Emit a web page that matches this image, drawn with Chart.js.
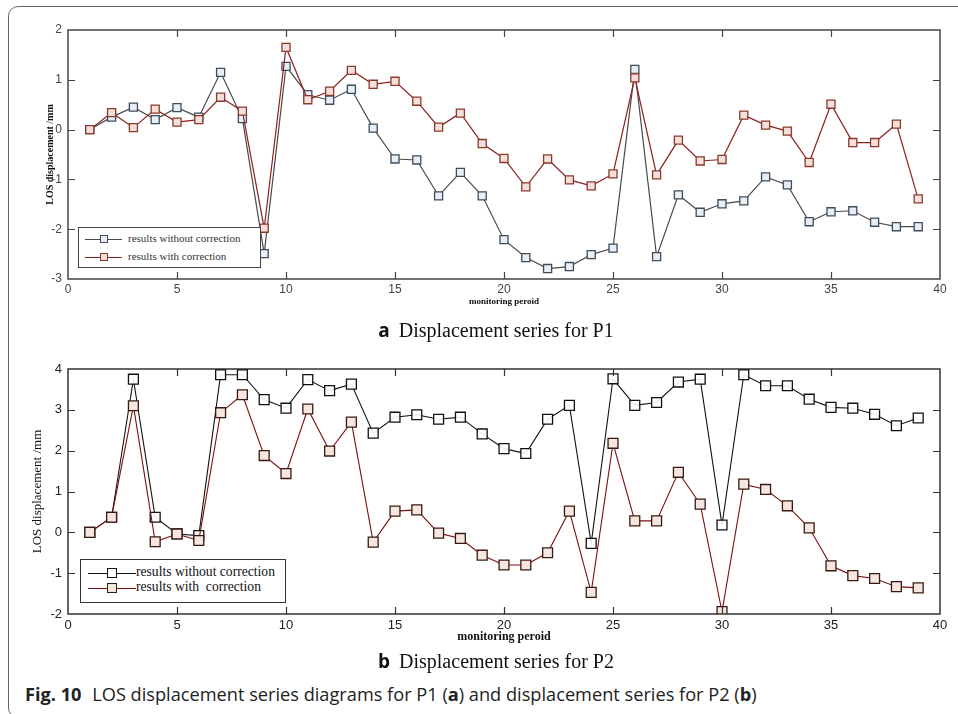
<!DOCTYPE html>
<html>
<head>
<meta charset="utf-8">
<script src="https://cdn.jsdelivr.net/npm/chart.js@4.4.1/dist/chart.umd.min.js"></script>
<style>
  html, body { margin: 0; padding: 0; background: #fff; }
  body { width: 958px; height: 714px; position: relative; overflow: hidden; }
  #frame { position: absolute; left: 8px; top: 6px; width: 1000px; height: 712px;
           border: 1.5px solid #666; border-radius: 10px; box-sizing: border-box; }
  canvas { position: absolute; left: 0; }
  #ca { top: 0; }
  #cb { top: 340px; }
  .sub { position: absolute; left: 0; width: 992px; text-align: center; white-space: nowrap;
         font-family: "Liberation Serif", "DejaVu Serif", serif; font-size: 20px; color: #111; }
  .sub b { font-family: "Open Sans", "Liberation Sans", sans-serif; font-weight: 700; font-size: 19px; margin-right: 4px; }
  #suba { top: 317px; }
  #subb { top: 648px; }
  #cap { position: absolute; left: 25px; top: 682px; white-space: nowrap;
         font-family: "Open Sans", "Liberation Sans", sans-serif; font-size: 18.2px; color: #222; }
  #cap .fig { font-weight: 700; margin-right: 6px; }
  .legend { position: absolute; background: #fff; box-sizing: border-box; }
  .row { position: absolute; left: 0; height: 14px; }
  .ln { position: absolute; top: 6px; height: 0; }
  .mk { position: absolute; box-sizing: border-box; }
  .tx { position: absolute; white-space: nowrap; font-family: "Liberation Serif", "DejaVu Serif", serif; }
  #lega { left: 78px; top: 227px; width: 183px; height: 41px; border: 1.5px solid #444; }
  #lega .tx { font-size: 11px; color: #333; left: 49px; top: -1px; }
  #legb { left: 80px; top: 559px; width: 206px; height: 44px; border: 1.5px solid #333; }
  #legb .tx { font-size: 13.6px; color: #111; left: 55px; top: -3px; }
</style>
</head>
<body>
<div id="frame"></div>
<canvas id="ca" width="958" height="310"></canvas>
<canvas id="cb" width="958" height="310"></canvas>

<div class="legend" id="lega">
  <div class="row" style="top:5px;">
    <div class="ln" style="left:6px;width:37px;border-top:1.3px solid #4a4a4a;"></div>
    <div class="mk" style="left:21px;top:2px;width:8px;height:8px;border:1.3px solid #3d4d5c;background:#e8eef4;"></div>
    <div class="tx">results without correction</div>
  </div>
  <div class="row" style="top:23px;">
    <div class="ln" style="left:6px;width:37px;border-top:1.6px solid #8b2020;"></div>
    <div class="mk" style="left:21px;top:2px;width:8px;height:8px;border:1.3px solid #8b3a2a;background:#f3e0dc;"></div>
    <div class="tx">results with correction</div>
  </div>
</div>

<div class="legend" id="legb">
  <div class="row" style="top:7px;">
    <div class="ln" style="left:7px;width:48px;border-top:1.2px solid #111;"></div>
    <div class="mk" style="left:26px;top:1px;width:10px;height:10px;border:1.3px solid #111;background:#fff;"></div>
    <div class="tx">results without correction</div>
  </div>
  <div class="row" style="top:22px;">
    <div class="ln" style="left:7px;width:48px;border-top:1.2px solid #7a1010;"></div>
    <div class="mk" style="left:26px;top:1px;width:10px;height:10px;border:1.3px solid #3a1a10;background:#f5e6e0;"></div>
    <div class="tx">results with&nbsp; correction</div>
  </div>
</div>

<div class="sub" id="suba"><b>a</b> Displacement series for P1</div>
<div class="sub" id="subb"><b>b</b> Displacement series for P2</div>
<div id="cap"><span class="fig">Fig. 10</span> LOS displacement series diagrams for P1 (<b>a</b>) and displacement series for P2 (<b>b</b>)</div>

<script>
// ---- data ----
const periods = [1,2,3,4,5,6,7,8,9,10,11,12,13,14,15,16,17,18,19,20,21,22,23,24,25,26,27,28,29,30,31,32,33,34,35,36,37,38,39];

const p1Without = [0, 0.25, 0.45, 0.2, 0.44, 0.25, 1.15, 0.22, -2.49, 1.27, 0.7, 0.59, 0.81, 0.03, -0.59, -0.61, -1.33, -0.86, -1.33, -2.21, -2.57, -2.79, -2.75, -2.51, -2.38, 1.21, -2.55, -1.31, -1.66, -1.49, -1.43, -0.95, -1.11, -1.85, -1.65, -1.63, -1.86, -1.95, -1.95];
const p1With    = [0, 0.34, 0.04, 0.41, 0.15, 0.2, 0.65, 0.37, -1.98, 1.65, 0.6, 0.77, 1.19, 0.91, 0.97, 0.57, 0.05, 0.33, -0.28, -0.58, -1.15, -0.59, -1.01, -1.13, -0.89, 1.04, -0.91, -0.21, -0.63, -0.6, 0.29, 0.09, -0.03, -0.66, 0.51, -0.26, -0.26, 0.11, -1.39];

const p2Without = [0, 0.37, 3.75, 0.37, -0.04, -0.08, 3.86, 3.86, 3.25, 3.04, 3.74, 3.47, 3.63, 2.43, 2.82, 2.88, 2.77, 2.82, 2.41, 2.05, 1.93, 2.77, 3.11, -0.27, 3.76, 3.11, 3.18, 3.68, 3.75, 0.18, 3.86, 3.59, 3.59, 3.26, 3.06, 3.04, 2.89, 2.61, 2.8];
const p2With    = [0, 0.37, 3.1, -0.23, -0.04, -0.2, 2.93, 3.37, 1.88, 1.44, 3.02, 1.99, 2.7, -0.24, 0.52, 0.55, -0.02, -0.15, -0.56, -0.8, -0.8, -0.5, 0.52, -1.47, 2.18, 0.28, 0.28, 1.47, 0.69, -1.94, 1.18, 1.05, 0.65, 0.11, -0.82, -1.06, -1.13, -1.33, -1.36];

const xTicksA = [0, 5, 10, 15, 20, 25, 30, 35, 40];
const yTicksA = [-3, -2, -1, 0, 1, 2];
const yTicksB = [-2, -1, 0, 1, 2, 3, 4];
const seriesNames = ['results without correction', 'results with correction'];
const xTitle = 'monitoring peroid';
const yTitle = 'LOS displacement /mm';

function pts(vals) { return periods.map((p, i) => ({ x: p, y: vals[i] })); }

// frame + inward ticks on all four sides
const framePlugin = {
  id: 'frame',
  afterDraw(chart, args, opts) {
    const { ctx, chartArea: a, scales: { x, y } } = chart;
    ctx.save();
    ctx.strokeStyle = opts.color;
    ctx.lineWidth = opts.width;
    ctx.strokeRect(a.left, a.top, a.right - a.left, a.bottom - a.top);
    ctx.lineWidth = 1.2;
    const L = 7;
    x.ticks.forEach(t => {
      if (t.value <= x.min || t.value >= x.max) return;
      const px = Math.round(x.getPixelForValue(t.value)) + 0.5;
      ctx.beginPath();
      ctx.moveTo(px, a.bottom); ctx.lineTo(px, a.bottom - L);
      ctx.moveTo(px, a.top); ctx.lineTo(px, a.top + L);
      ctx.stroke();
    });
    y.ticks.forEach(t => {
      if (t.value <= y.min || t.value >= y.max) return;
      const py = Math.round(y.getPixelForValue(t.value)) + 0.5;
      ctx.beginPath();
      ctx.moveTo(a.left, py); ctx.lineTo(a.left + L, py);
      ctx.moveTo(a.right, py); ctx.lineTo(a.right - L, py);
      ctx.stroke();
    });
    ctx.restore();
  }
};

function makeChart(id, cfg) {
  return new Chart(document.getElementById(id), {
    type: 'line',
    data: {
      datasets: [
        { label: seriesNames[0], data: pts(cfg.s1), borderColor: cfg.c1.line, borderWidth: cfg.lw,
          pointStyle: 'rect', pointRadius: cfg.pr, pointBorderColor: cfg.c1.edge, pointBackgroundColor: cfg.c1.fill,
          pointBorderWidth: 1.3, tension: 0, order: 2 },
        { label: seriesNames[1], data: pts(cfg.s2), borderColor: cfg.c2.line, borderWidth: cfg.lw,
          pointStyle: 'rect', pointRadius: cfg.pr, pointBorderColor: cfg.c2.edge, pointBackgroundColor: cfg.c2.fill,
          pointBorderWidth: 1.3, tension: 0, order: cfg.redOrder }
      ]
    },
    options: {
      responsive: false,
      animation: false,
      devicePixelRatio: 1,
      layout: { padding: cfg.pad },
      plugins: { legend: { display: false }, tooltip: { enabled: false },
                 frame: { color: cfg.frameColor, width: 1.5 } },
      scales: {
        x: {
          type: 'linear', min: 0, max: 40,
          afterBuildTicks: s => { s.ticks = xTicksA.map(v => ({ value: v })); },
          afterFit: s => { s.height = cfg.xh; },
          grid: { display: false, drawTicks: false }, border: { display: false },
          ticks: { color: cfg.tickColor, font: { family: 'Liberation Sans', size: cfg.tickSize }, padding: cfg.xtp, maxRotation: 0 },
          title: { display: true, text: xTitle, color: '#111',
                   font: { family: 'Liberation Serif', size: cfg.xtSize, weight: 'bold' }, padding: { top: 0, bottom: cfg.xtPad } }
        },
        y: {
          min: cfg.ymin, max: cfg.ymax,
          afterBuildTicks: s => { s.ticks = cfg.yTicks.map(v => ({ value: v })); },
          afterFit: s => { s.width = cfg.yw; },
          grid: { display: false, drawTicks: false }, border: { display: false },
          ticks: { color: cfg.tickColor, font: { family: 'Liberation Sans', size: cfg.tickSize }, padding: 6 },
          title: { display: true, text: yTitle, color: '#111',
                   font: { family: 'Liberation Serif', size: cfg.ytSize, weight: cfg.ytWeight }, padding: { top: 4, bottom: 4 } }
        }
      }
    },
    plugins: [framePlugin]
  });
}

makeChart('ca', {
  s1: p1Without, s2: p1With,
  c1: { line: '#4a4a4a', edge: '#3d4d5c', fill: '#e8eef4' },
  c2: { line: '#8b2020', edge: '#8b3a2a', fill: '#f3e0dc' },
  lw: 1.2, pr: 5.7, redOrder: 1,
  pad: { left: 40, right: 18, top: 30, bottom: 0 },
  xh: 31, yw: 28, xtp: 3, xtSize: 9, xtPad: 3, ytSize: 10, ytWeight: 'bold',
  ymin: -3, ymax: 2, yTicks: yTicksA,
  tickColor: '#444', tickSize: 12, frameColor: '#444'
});

makeChart('cb', {
  s1: p2Without, s2: p2With,
  c1: { line: '#111111', edge: '#111111', fill: 'rgba(255,255,255,0.9)' },
  c2: { line: '#7a1010', edge: '#3a1a10', fill: '#f5e6e0' },
  lw: 1.1, pr: 7, redOrder: 1,
  pad: { left: 26, right: 18, top: 29, bottom: 0 },
  xh: 36, yw: 42, xtp: 4, xtSize: 12, xtPad: 6, ytSize: 13, ytWeight: 'normal',
  ymin: -2, ymax: 4, yTicks: yTicksB,
  tickColor: '#222', tickSize: 13, frameColor: '#333'
});
</script>
</body>
</html>
